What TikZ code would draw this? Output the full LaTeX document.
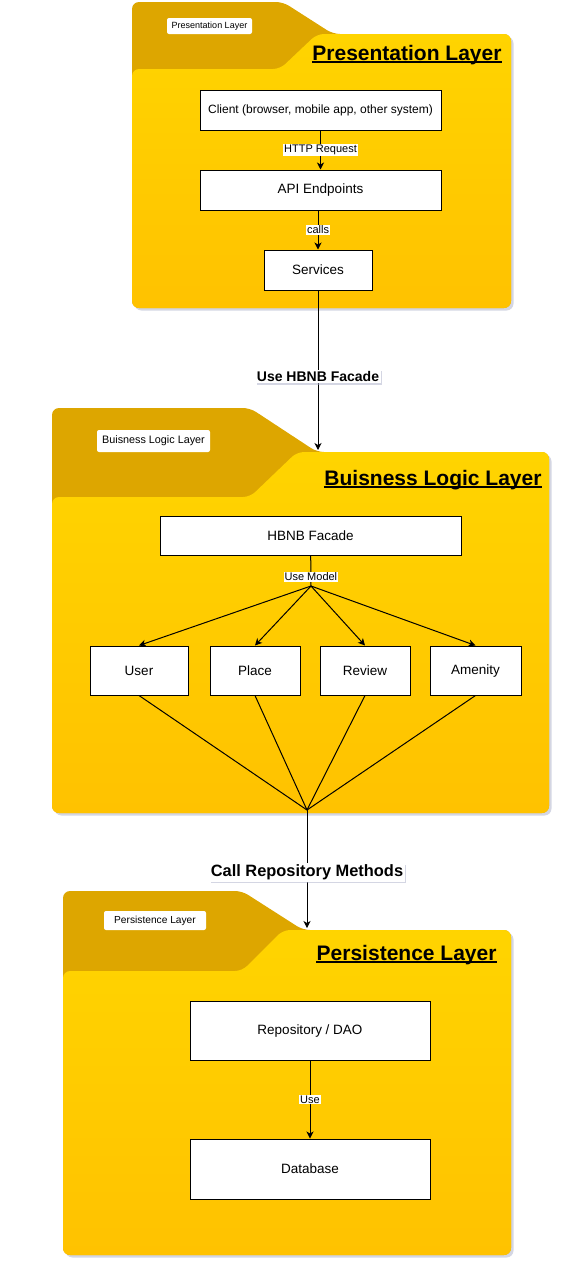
\documentclass[tikz,border=0pt]{standalone}
\usepackage{fontspec}
\setmainfont{Liberation Sans}
\usetikzlibrary{arrows.meta,shadows}
\definecolor{tabcol}{HTML}{DDA600}
\definecolor{bodytop}{HTML}{FFD400}
\definecolor{bodybot}{HTML}{FFC200}
\definecolor{shadecol}{HTML}{A9AEC8}
\tikzset{
  box/.style={draw,fill=white,inner sep=0pt,font=\fontsize{13.5}{16}\selectfont},
  lbl/.style={fill=white,inner sep=1pt,font=\fontsize{11}{13}\selectfont},
  biglbl/.style={fill=white,inner sep=1.5pt,font=\bfseries\fontsize{14}{16}\selectfont,
    drop shadow={shadow xshift=1.5pt,shadow yshift=-1.5pt,fill=shadecol,opacity=.5}},
  tablbl/.style={fill=white,rounded corners=2pt,inner sep=0pt},
  ttl/.style={anchor=base east,inner sep=0pt,font=\bfseries\fontsize{21}{24}\selectfont},
  arr/.style={-{Stealth[length=7pt,width=7pt,inset=2pt]}}
}
\begin{document}
\begin{tikzpicture}[x=1pt,y=-1pt,line width=1pt]
\useasboundingbox (0,0) rectangle (561,1267);
% folders
\foreach \l/\r/\t/\b/\tx/\dx/\by/\lx/\lxx/\ly in {132/511/2/308/283/333/34/317/280/69,
    52/549/408/813/250/317/452/297/250/497, 63/511/891/1255/242/303/930/283/242/971}{
  \fill[shadecol,opacity=.5,shift={(2.5,2.5)},rounded corners=7] (\l,\b) -- (\l,\t) -- (\tx,\t) -- (\dx,\by) -- (\r,\by) -- (\r,\b) -- cycle;
  \fill[tabcol,rounded corners=7] (\l,\b) -- (\l,\t) -- (\tx,\t) -- (\dx,\by) -- (\r,\by) -- (\r,\b) -- cycle;
  \shade[top color=bodytop,bottom color=bodybot,rounded corners=7] (\l,\b) -- (\l,\ly) -- (\lxx,\ly) -- (\lx,\by) -- (\r,\by) -- (\r,\b) -- cycle;
}
\node[tablbl,minimum width=85,minimum height=16,font=\fontsize{9}{11}\selectfont] (tabpres) at (209.5,26) {Presentation Layer};
\node[tablbl,minimum width=113,minimum height=22,font=\fontsize{10.8}{13}\selectfont] (tabbiz) at (153.5,441) {Buisness Logic Layer};
\node[tablbl,minimum width=102,minimum height=19,font=\fontsize{10.2}{12}\selectfont] (tabper) at (155,920.5) {Persistence Layer};
\node[ttl] (tpres) at (502,60) {Presentation Layer};
\node[ttl] (tbiz) at (542,485) {Buisness Logic Layer};
\node[ttl] (tper) at (497,960) {Persistence Layer};
\foreach \t in {tpres,tbiz,tper}
  \draw[line width=1.4pt] ([yshift=-2pt]\t.base west) -- ([yshift=-2pt]\t.base east);
% presentation
\node[box,minimum width=241,minimum height=40] (cl) at (320.5,110) {\fontsize{12}{14}\selectfont Client (browser, mobile app, other system)};
\node[box,minimum width=241,minimum height=40] (api) at (320.5,190) {API Endpoints};
\node[box,minimum width=108,minimum height=40] (srv) at (318,270) {Services};
\draw[arr] (cl) -- node[lbl]{HTTP Request} (api);
\draw[arr] (srv.north |- api.south) -- node[lbl]{calls} (srv);
\coordinate (bizin) at (318,450);
\draw[arr] (srv) -- node[biglbl,pos=.54]{Use HBNB Facade} (bizin);
% business logic
\node[box,minimum width=301,minimum height=39] (hb) at (310.5,535.5) {HBNB Facade};
\node[box,minimum width=98,minimum height=49] (usr) at (139,670.5) {User};
\node[box,minimum width=90,minimum height=49] (plc) at (255,670.5) {Place};
\node[box,minimum width=90,minimum height=49] (rev) at (365,670.5) {Review};
\node[box,minimum width=91,minimum height=49] (amn) at (475.5,670.5) {Amenity};
\coordinate (fan) at (311,586);
\foreach \m in {usr,plc,rev,amn} \draw[arr] (fan) -- (\m.north);
\draw (hb) -- node[lbl,pos=.7]{Use Model} (fan);
\coordinate (join) at (307,810);
\foreach \m in {usr,plc,rev,amn} \draw (\m.south) -- (join);
\coordinate (perin) at (307,928);
\draw[arr] (join) -- node[biglbl,font=\bfseries\fontsize{16.4}{19}\selectfont,pos=.53]{Call Repository Methods} (perin);
% persistence
\node[box,minimum width=240,minimum height=59] (repo) at (310,1030.5) {Repository / DAO};
\node[box,minimum width=240,minimum height=60] (db) at (310,1169) {Database};
\draw[arr] (repo) -- node[lbl]{Use} (db);
\end{tikzpicture}
\end{document}
